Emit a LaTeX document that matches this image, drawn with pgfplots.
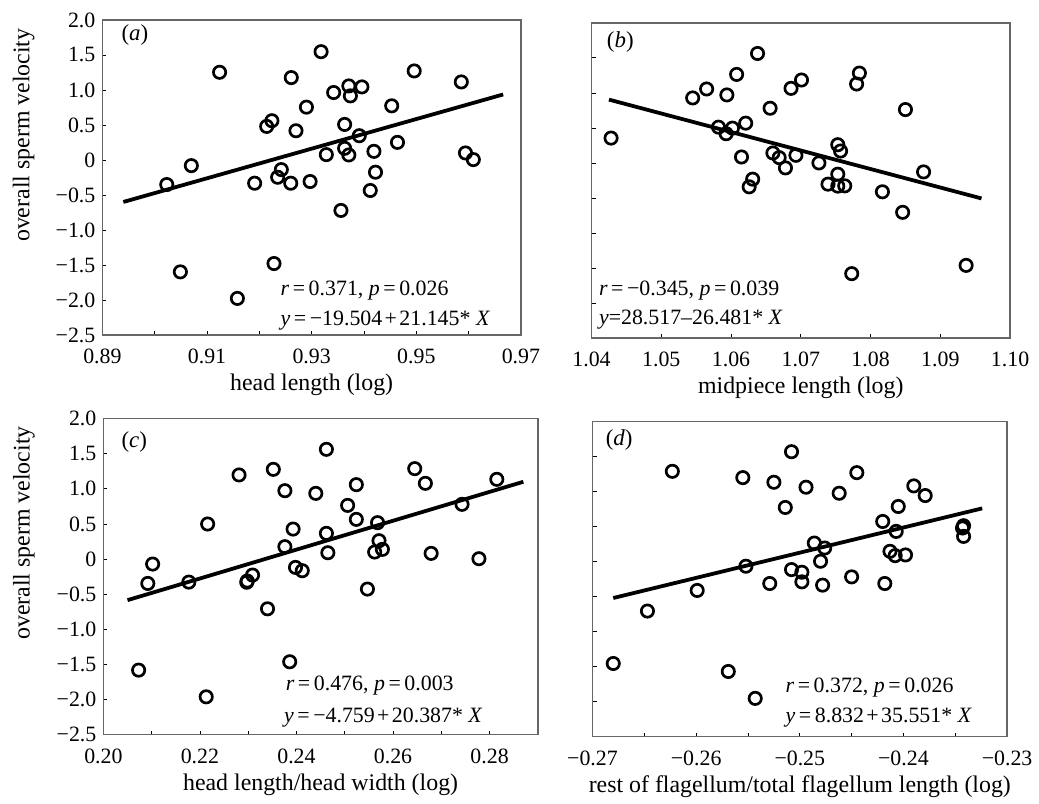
\documentclass[border=0pt]{standalone}
\usepackage{fontspec}
\setmainfont{Liberation Serif}
\usepackage{pgfplots}
\pgfplotsset{compat=1.18}

\newcommand{\eq}{\hspace{1.8pt}=\hspace{1.8pt}}
\newcommand{\pl}{\hspace{1.2pt}+\hspace{1.2pt}}

\tikzset{note/.style={anchor=west, font=\fontsize{11}{13}\selectfont, inner sep=0pt},
         tag/.style={anchor=west, font=\fontsize{11.5}{13}\selectfont, inner sep=0pt}}

\pgfplotsset{
  panel/.style={
    scale only axis,
    ymin=-2.5, ymax=2,
    ytick={-2.5,-2,-1.5,-1,-0.5,0,0.5,1,1.5,2},
    tick align=inside,
    tick pos=left,
    major tick length=2pt,
    minor tick length=2pt,
    axis line style={black!60, line width=0.7pt},
    every tick/.style={black, line width=0.4pt},
    every minor tick/.style={black, line width=0.4pt},
    tick label style={font=\fontsize{11}{13}\selectfont},
    label style={font=\fontsize{12}{14}\selectfont},
    xticklabel style={yshift=-3.5pt},
    xlabel style={at={(axis description cs:0.5,0)}, anchor=center, yshift=-25pt},
    clip=false,
  },
  ylabs/.style={yticklabels={−2.5,−2.0,−1.5,−1.0,−0.5,0,0.5,1.0,1.5,2.0}},
  nolabs/.style={yticklabels={}},
  pts/.style={only marks, mark=o, mark size=3.1pt, mark options={line width=1.35pt, black}},
  fit/.style={black, line width=1.9pt, no marks},
}

\begin{document}
\begin{tikzpicture}
\path (0,0) rectangle (519.5pt,-399pt);

% (a)
\begin{axis}[panel, ylabs,
  at={(51.5pt,-10pt)}, anchor=north west,
  width=210.5pt, height=158.5pt,
  xmin=0.89, xmax=0.97,
  xtick={0.89,0.91,0.93,0.95,0.97},
  minor xtick={0.90,0.92,0.94,0.96},
  xticklabels={0.89,0.91,0.93,0.95,0.97},
  xlabel={head length (log)},
  ylabel={overall sperm velocity},
  ylabel style={at={(axis description cs:-0.188,0.634)}, anchor=center},
]
\addplot[pts] coordinates {
(0.9023,-0.351) (0.9070,-0.081) (0.9124,1.252) (0.9049,-1.598) (0.9158,-1.977)
(0.9191,-0.332) (0.9214,0.479) (0.9224,0.560) (0.9228,-1.479) (0.9242,-0.138)
(0.9235,-0.247) (0.9261,1.176) (0.9260,-0.332) (0.9270,0.417) (0.9290,0.754)
(0.9297,-0.308) (0.9318,1.546) (0.9328,0.076) (0.9342,0.963) (0.9356,-0.721)
(0.9363,0.507) (0.9363,0.166) (0.9371,0.071) (0.9371,1.057) (0.9374,0.915)
(0.9391,0.346) (0.9396,1.043) (0.9412,-0.436) (0.9419,0.123) (0.9422,-0.175)
(0.9453,0.773) (0.9464,0.251) (0.9496,1.271) (0.9586,1.114) (0.9594,0.100)
(0.9609,0.005)};
\addplot[fit] coordinates {(0.894,-0.600) (0.9666,0.935)};
\node[tag] at (rel axis cs:0.045,0.953) {(\textit{a})};
\node[note] at (rel axis cs:0.425,0.142) {\textit{r}\eq 0.371, \textit{p}\eq 0.026};
\node[note] at (rel axis cs:0.425,0.047) {\textit{y}\eq −19.504\pl 21.145* \textit{X}};
\end{axis}

% (b)
\begin{axis}[panel, nolabs,
  at={(297.5pt,-11.5pt)}, anchor=north west,
  width=210.5pt, height=158.5pt,
  xmin=1.04, xmax=1.10,
  xtick={1.04,1.05,1.06,1.07,1.08,1.09,1.10},
  xticklabels={1.04,1.05,1.06,1.07,1.08,1.09,1.10},
  xlabel={midpiece length (log)},
]
\addplot[pts] coordinates {
(1.0428,0.355) (1.0545,0.928) (1.0565,1.056) (1.0594,0.971) (1.0608,1.264)
(1.0638,1.563) (1.0582,0.511) (1.0593,0.417) (1.0602,0.497) (1.0621,0.568)
(1.0615,0.085) (1.0631,-0.232) (1.0626,-0.341) (1.0656,0.781) (1.0660,0.142)
(1.0669,0.076) (1.0678,-0.071) (1.0686,1.065) (1.0701,1.184) (1.0693,0.109)
(1.0726,0.000) (1.0753,0.260) (1.0757,0.170) (1.0753,-0.161) (1.0739,-0.303)
(1.0753,-0.331) (1.0763,-0.327) (1.0773,-1.581) (1.0780,1.127) (1.0784,1.283)
(1.0817,-0.412) (1.0846,-0.705) (1.0850,0.762) (1.0876,-0.128) (1.0937,-1.463)};
\addplot[fit] coordinates {(1.0425,0.904) (1.0959,-0.507)};
\node[tag] at (rel axis cs:0.036,0.94) {(\textit{b})};
\node[note] at (rel axis cs:0.017,0.151) {\textit{r}\eq −0.345, \textit{p}\eq 0.039};
\node[note] at (rel axis cs:0.017,0.057) {\textit{y}=28.517–26.481* \textit{X}};
\end{axis}

% (c)
\begin{axis}[panel, ylabs,
  at={(52pt,-210.5pt)}, anchor=north west,
  width=218.5pt, height=159pt,
  xmin=0.20, xmax=0.29,
  xtick={0.20,0.22,0.24,0.26,0.28},
  minor xtick={0.21,0.23,0.25,0.27},
  xticklabels={0.20,0.22,0.24,0.26,0.28},
  xlabel={head length/head width (log)},
  ylabel={overall sperm velocity},
  ylabel style={at={(axis description cs:-0.183,0.638)}, anchor=center},
]
\addplot[pts] coordinates {
(0.2073,-1.581) (0.2092,-0.347) (0.2102,-0.071) (0.2177,-0.328) (0.2213,-1.961)
(0.2216,0.499) (0.2281,1.197) (0.2298,-0.313) (0.2309,-0.228) (0.2297,-0.330)
(0.2340,-0.708) (0.2352,1.277) (0.2376,0.176) (0.2376,0.973) (0.2386,-1.462)
(0.2393,0.427) (0.2398,-0.119) (0.2412,-0.166) (0.2440,0.935) (0.2462,1.562)
(0.2462,0.366) (0.2465,0.090) (0.2506,0.764) (0.2524,0.565) (0.2524,1.059)
(0.2547,-0.427) (0.2568,0.518) (0.2571,0.261) (0.2562,0.100) (0.2578,0.138)
(0.2645,1.287) (0.2667,1.078) (0.2679,0.081) (0.2743,0.779) (0.2778,0.005)
(0.2815,1.135)};
\addplot[fit] coordinates {(0.205,-0.585) (0.287,1.10)};
\node[tag] at (rel axis cs:0.041,0.925) {(\textit{c})};
\node[note] at (rel axis cs:0.419,0.154) {\textit{r}\eq 0.476, \textit{p}\eq 0.003};
\node[note] at (rel axis cs:0.415,0.053) {\textit{y}\eq −4.759\pl 20.387* \textit{X}};
\end{axis}

% (d)
\begin{axis}[panel, nolabs,
  at={(298pt,-212pt)}, anchor=north west,
  width=208.5pt, height=158.5pt,
  xmin=-0.27, xmax=-0.23,
  xtick={-0.27,-0.26,-0.25,-0.24,-0.23},
  minor xtick={-0.265,-0.255,-0.245,-0.235},
  xticklabels={−0.27,−0.26,−0.25,−0.24,−0.23},
  xlabel={rest of flagellum/total flagellum length (log)},
]
\addplot[pts] coordinates {
(-0.2680,-1.455) (-0.2647,-0.706) (-0.2623,1.289) (-0.2599,-0.412) (-0.2569,-1.569)
(-0.2555,1.199) (-0.2552,-0.066) (-0.2543,-1.953) (-0.2529,-0.313) (-0.2525,1.133)
(-0.2514,0.773) (-0.2508,1.569) (-0.2508,-0.114) (-0.2498,-0.152) (-0.2498,-0.289)
(-0.2494,1.062) (-0.2486,0.265) (-0.2480,0.005) (-0.2478,-0.336) (-0.2476,0.194)
(-0.2462,0.976) (-0.2450,-0.218) (-0.2445,1.270) (-0.2420,0.573) (-0.2418,-0.313)
(-0.2413,0.147) (-0.2408,0.085) (-0.2407,0.431) (-0.2405,0.787) (-0.2398,0.095)
(-0.2390,1.081) (-0.2379,0.943) (-0.2342,0.512) (-0.2342,0.360) (-0.2343,0.480)};
\addplot[fit] coordinates {(-0.268,-0.52) (-0.2324,0.76)};
\node[tag] at (rel axis cs:0.031,0.94) {(\textit{d})};
\node[note] at (rel axis cs:0.465,0.155) {\textit{r}\eq 0.372, \textit{p}\eq 0.026};
\node[note] at (rel axis cs:0.465,0.06) {\textit{y}\eq 8.832\pl 35.551* \textit{X}};
\end{axis}
\end{tikzpicture}
\end{document}
